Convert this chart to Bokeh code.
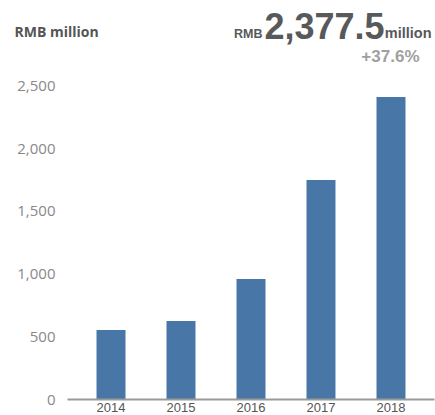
from bokeh.plotting import figure
from bokeh.models import Range1d, Label, FixedTicker, NumeralTickFormatter, ColumnDataSource
from bokeh.layouts import column
from bokeh.embed import file_html
from bokeh.resources import INLINE

years = ["2014", "2015", "2016", "2017", "2018"]
revenue = [554, 626, 961, 1750, 2412]
y_ticks = [0, 500, 1000, 1500, 2000, 2500]
unit_label = "RMB million"
headline_prefix = "RMB"
headline_value = "2,377.5"
headline_unit = "million"
growth_text = "+37.6%"

# ---- header strip with the texts ----
H = 66
top = figure(width=435, height=H, x_range=Range1d(0, 435), y_range=Range1d(0, H),
             output_backend="svg", toolbar_location=None,
             min_border_left=0, min_border_right=0, min_border_top=0, min_border_bottom=0)
top.axis.visible = False
top.grid.visible = False
top.outline_line_color = None
top.frame_align = False

def add_label(text, x, yc, size, color, font="Liberation Sans", align="left", style="bold"):
    top.add_layout(Label(x=x, y=H - yc, x_units="screen", y_units="screen", text=text,
                         text_font=font, text_font_size=size, text_font_style=style,
                         text_color=color, text_align=align, text_baseline="middle"))

add_label(unit_label, 14, 31, "14px", "#555555", font="Open Sans")
add_label(headline_prefix, 262, 33, "12.5px", "#58595b", align="right")
add_label(headline_value, 384, 25, "36px", "#58595b", align="right")
add_label(headline_unit, 431, 32, "14.5px", "#58595b", align="right")
add_label(growth_text, 419, 56, "17px", "#a0a0a0", align="right")

# ---- bar chart ----
source = ColumnDataSource(data=dict(year=years, revenue=revenue))

p = figure(
    x_range=years,
    y_range=Range1d(0, 2656),
    width=435, height=349,
    output_backend="svg", toolbar_location=None,
    min_border_left=67, min_border_right=1, min_border_top=0, min_border_bottom=16,
)
p.frame_align = False
p.x_range.range_padding = 0.0486
p.outline_line_color = None
p.grid.visible = False

p.vbar(x="year", top="revenue", width=0.414, source=source,
       fill_color="#4877a7", line_color=None)

xa = p.xaxis[0]
xa.axis_line_color = "#9a9a9a"
xa.axis_line_width = 2
xa.major_tick_line_color = None
xa.minor_tick_line_color = None
xa.major_tick_out = 0
xa.major_label_standoff = 3
xa.major_label_text_font = "Liberation Sans"
xa.major_label_text_font_size = "13px"
xa.major_label_text_color = "#555555"

ya = p.yaxis[0]
ya.ticker = FixedTicker(ticks=y_ticks)
ya.formatter = NumeralTickFormatter(format="0,0")
ya.axis_line_color = None
ya.major_tick_line_color = None
ya.minor_tick_line_color = None
ya.major_tick_out = 0
ya.major_label_standoff = 12
ya.major_label_text_font = "Open Sans"
ya.major_label_text_font_size = "15px"
ya.major_label_text_color = "#888888"

layout = column(top, p, spacing=0)
open("out.html", "w").write(file_html(layout, INLINE))
